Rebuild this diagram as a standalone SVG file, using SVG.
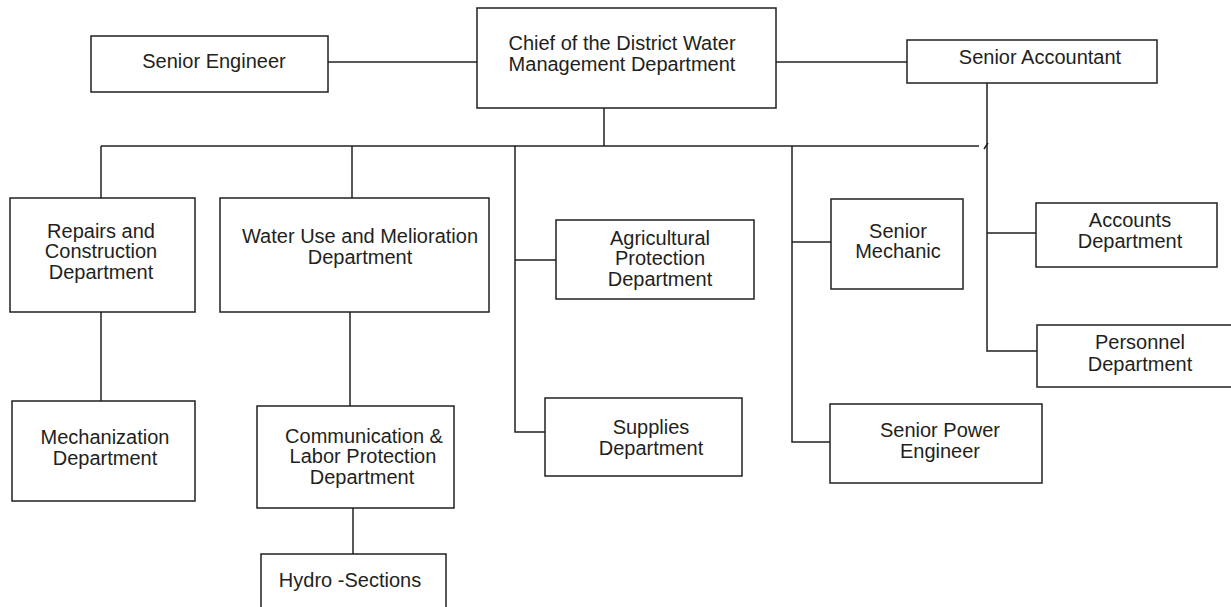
<svg xmlns="http://www.w3.org/2000/svg" width="1231" height="607" viewBox="0 0 1231 607">
<style>
rect{fill:#fff;stroke:#231f20;stroke-width:1.5}
.c path{fill:none;stroke:#231f20;stroke-width:1.5}
text{font-family:"Liberation Sans",Arial,sans-serif;font-size:20px;fill:#231f20;text-anchor:middle}
</style>
<rect x="0" y="0" width="1231" height="607" style="fill:#fff;stroke:none"/>
<g class="c" id="connectors">
<path d="M328 62H477"/>
<path d="M776 62H911"/>
<path d="M604 108V146"/>
<path d="M101 146H979"/>
<path d="M984 149L988 143"/>
<path d="M987 83V351H1037"/>
<path d="M987 233H1036"/>
<path d="M101 146V198"/>
<path d="M352 146V198"/>
<path d="M101 312V401"/>
<path d="M350 312V406"/>
<path d="M353 508V554"/>
<path d="M515 146V432H545"/>
<path d="M515 260H556"/>
<path d="M792 146V442H830"/>
<path d="M792 242H831"/>
</g>
<g id="chief"><rect x="477" y="8" width="299" height="100"/><text x="622" y="50">Chief of the District Water</text><text x="622" y="71">Management Department</text></g>
<g id="senior-engineer"><rect x="91" y="36" width="237" height="56"/><text x="214" y="68">Senior Engineer</text></g>
<g id="senior-accountant"><rect x="907" y="40" width="250" height="43"/><text x="1040" y="64">Senior Accountant</text></g>
<g id="repairs"><rect x="10" y="198" width="185" height="114"/><text x="101" y="238">Repairs and</text><text x="101" y="258">Construction</text><text x="101" y="279">Department</text></g>
<g id="water-use"><rect x="220" y="198" width="269" height="114"/><text x="360" y="243">Water Use and Melioration</text><text x="360" y="264">Department</text></g>
<g id="agricultural"><rect x="556" y="220" width="198" height="79"/><text x="660" y="245">Agricultural</text><text x="660" y="265">Protection</text><text x="660" y="286">Department</text></g>
<g id="senior-mechanic"><rect x="831" y="199" width="132" height="90"/><text x="898" y="238">Senior</text><text x="898" y="258">Mechanic</text></g>
<g id="accounts"><rect x="1036" y="203" width="181" height="64"/><text x="1130" y="227">Accounts</text><text x="1130" y="248">Department</text></g>
<g id="personnel"><rect x="1037" y="325" width="200" height="62"/><text x="1140" y="349">Personnel</text><text x="1140" y="371">Department</text></g>
<g id="mechanization"><rect x="12" y="401" width="183" height="100"/><text x="105" y="444">Mechanization</text><text x="105" y="465">Department</text></g>
<g id="communication"><rect x="257" y="406" width="197" height="102"/><text x="364" y="443">Communication &amp;</text><text x="363" y="463">Labor Protection</text><text x="362" y="484">Department</text></g>
<g id="hydro"><rect x="261" y="554" width="185" height="60"/><text x="350" y="587">Hydro -Sections</text></g>
<g id="supplies"><rect x="545" y="398" width="197" height="78"/><text x="651" y="434">Supplies</text><text x="651" y="455">Department</text></g>
<g id="power-engineer"><rect x="830" y="404" width="212" height="79"/><text x="940" y="437">Senior Power</text><text x="940" y="458">Engineer</text></g>
</svg>
